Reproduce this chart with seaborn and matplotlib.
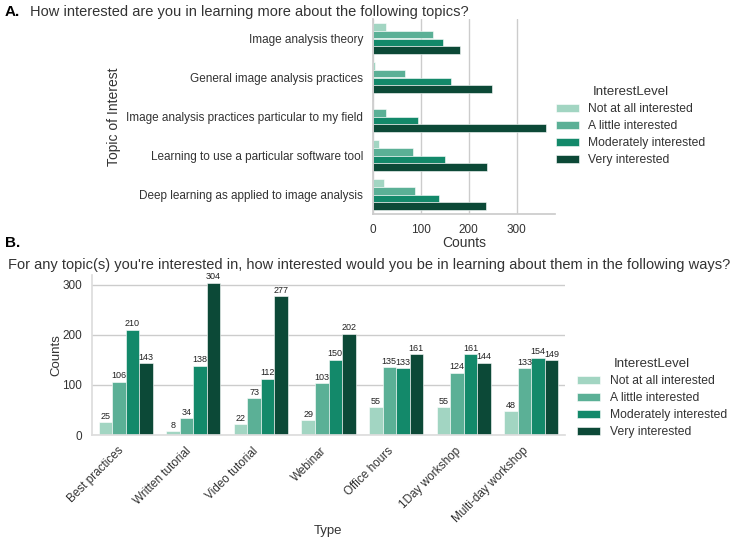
import numpy as np
import pandas as pd
import matplotlib
matplotlib.use("Agg")
import matplotlib.pyplot as plt
import seaborn as sns

# Panel A data: interest in topics
topics = [
    "Image analysis theory",
    "General image analysis practices",
    "Image analysis practices particular to my field",
    "Learning to use a particular software tool",
    "Deep learning as applied to image analysis",
]
levels = ["Not at all interested", "A little interested",
          "Moderately interested", "Very interested"]
topic_not = [28, 4, 0, 13, 24]
topic_little = [126, 67, 27, 83, 87]
topic_moderate = [147, 162, 94, 150, 138]
topic_very = [182, 249, 362, 239, 235]

# Panel B data: preferred learning formats
types = ["Best practices", "Written tutorial", "Video tutorial", "Webinar",
         "Office hours", "1Day workshop", "Multi-day workshop"]
type_not = [25, 8, 22, 29, 55, 55, 48]
type_little = [106, 34, 73, 103, 135, 124, 133]
type_moderate = [210, 138, 112, 150, 133, 161, 154]
type_very = [143, 304, 277, 202, 161, 144, 149]

palette = ["#a2d5c2", "#5bb096", "#13896a", "#0c4937"]


def to_long(cats, cols, catname):
    rows = []
    for lvl, vals in zip(levels, cols):
        for c, v in zip(cats, vals):
            rows.append({catname: c, "InterestLevel": lvl, "Counts": v})
    return pd.DataFrame(rows)


df_a = to_long(topics, [topic_not, topic_little, topic_moderate, topic_very],
               "Topic of Interest")
df_b = to_long(types, [type_not, type_little, type_moderate, type_very], "Type")

sns.set_theme(style="whitegrid")
plt.rcParams["font.family"] = ["Liberation Sans", "DejaVu Sans"]
text_col = "#333333"
plt.rcParams["text.color"] = text_col
plt.rcParams["axes.labelcolor"] = text_col
plt.rcParams["xtick.color"] = text_col
plt.rcParams["ytick.color"] = text_col

W, H = 736, 539
fig = plt.figure(figsize=(W / 100, H / 100), dpi=100)


def px_axes(x0, y0, x1, y1):
    return fig.add_axes([x0 / W, 1 - y1 / H, (x1 - x0) / W, (y1 - y0) / H])


def add_legend(ax, anchor):
    leg = ax.legend(title="InterestLevel", loc="center left",
                    bbox_to_anchor=anchor, frameon=False, fontsize=8.7,
                    handlelength=1.9, handleheight=0.6, labelspacing=0.42,
                    handletextpad=0.8)
    leg.get_title().set_fontsize(9.5)
    return leg


# ---- Panel A
ax_a = px_axes(373, 19, 555, 214)
sns.barplot(data=df_a, y="Topic of Interest", x="Counts", hue="InterestLevel",
            hue_order=levels, order=topics, palette=palette, saturation=1,
            orient="h", ax=ax_a, edgecolor="white", linewidth=0.4)
ax_a.set_xticks([0, 100, 200, 300])
ax_a.tick_params(labelsize=8.5, pad=1)
ax_a.set_xlabel("Counts", fontsize=10, labelpad=0)
ax_a.set_ylabel("Topic of Interest", fontsize=10)
ax_a.grid(axis="y", visible=False)
sns.despine(ax=ax_a)
for s in ["left", "bottom"]:
    ax_a.spines[s].set_color("#cccccc")
add_legend(ax_a, (0.945, 0.45))

# ---- Panel B
ax_b = px_axes(92, 275, 565, 435)
sns.barplot(data=df_b, x="Type", y="Counts", hue="InterestLevel",
            hue_order=levels, order=types, palette=palette, saturation=1,
            ax=ax_b, edgecolor="white", linewidth=0.4)
for cont in ax_b.containers:
    ax_b.bar_label(cont, fontsize=6.5, padding=1, color="#222222")
ax_b.set_yticks([0, 100, 200, 300])
ax_b.tick_params(labelsize=8.5, pad=1)
plt.setp(ax_b.get_xticklabels(), rotation=45, ha="right")
ax_b.set_xlabel("Type", fontsize=9.5, labelpad=0)
ax_b.set_ylabel("Counts", fontsize=9.5, labelpad=0)
ax_b.grid(axis="x", visible=False)
sns.despine(ax=ax_b)
for s in ["left", "bottom"]:
    ax_b.spines[s].set_color("#dddddd")
add_legend(ax_b, (1.003, 0.23))

# titles and panel letters
fig.text(5 / W, 1 - 12 / H, "A.", fontsize=11, fontweight="bold",
         va="center", ha="left", color="black")
fig.text(30 / W, 1 - 12 / H,
         "How interested are you in learning more about the following topics?",
         fontsize=10.5, va="center", ha="left")
fig.text(5 / W, 1 - 243 / H, "B.", fontsize=11, fontweight="bold",
         va="center", ha="left", color="black")
fig.text(8 / W, 1 - 265 / H,
         "For any topic(s) you're interested in, how interested would you be "
         "in learning about them in the following ways?",
         fontsize=10.5, va="center", ha="left")

fig.savefig("out.png", dpi=100)
